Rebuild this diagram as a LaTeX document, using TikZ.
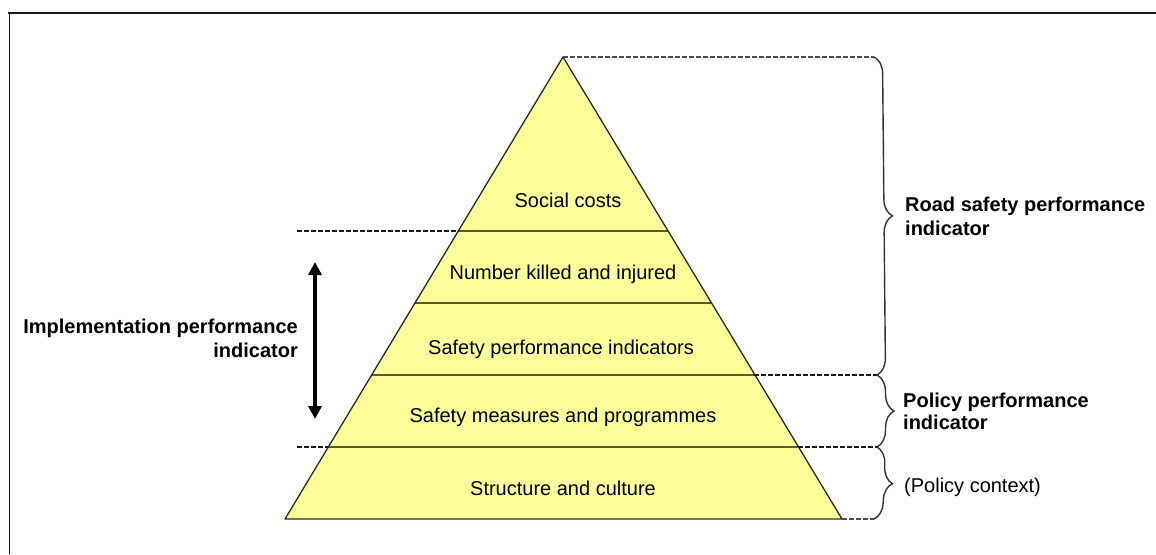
\documentclass[tikz,border=0pt]{standalone}
\usepackage{fontspec}
\setmainfont{Liberation Sans}
\usetikzlibrary{arrows.meta,decorations.pathreplacing}
\definecolor{pyrfill}{RGB}{255,255,153}
\definecolor{pyrline}{RGB}{40,40,40}
\definecolor{layerline}{RGB}{90,90,60}
\begin{document}
\begin{tikzpicture}[x=1pt,y=-1pt,
  lbl/.style={inner sep=0pt,font=\fontsize{20}{23}\selectfont},
  blbl/.style={lbl,font=\fontsize{20}{24}\selectfont\bfseries},
  dashline/.style={draw=black!90,line width=1.4pt,dash pattern=on 5pt off 2pt},
  bracestyle/.style={draw=black!80,line width=1.4pt,decorate,decoration={brace,amplitude=17pt}},
  frame/.style={draw=black!90,line width=1.5pt}]
\useasboundingbox (0,0) rectangle (1156,554);
% frame
\draw[frame] (8,13) -- (1156,13);
\draw[frame] (9.5,13) -- (9.5,554);
% pyramid corners
\coordinate (apex) at (563,57);
\coordinate (bl) at (285,519);
\coordinate (br) at (842,519);
% layer boundary points on edges
\foreach \y/\n in {231/a,303/b,375/c,447/d}{
  \coordinate (L\n) at ({563-(\y-57)*0.6017},\y);
  \coordinate (R\n) at ({563+(\y-57)*0.6017},\y);
}
\fill[pyrfill] (apex) -- (bl) -- (br) -- cycle;
\foreach \n in {a,b,c,d}{\draw[layerline,line width=1.1pt] (L\n) -- (R\n);}
\draw[pyrline,line width=1.3pt,line join=round] (apex) -- (bl) -- (br) -- cycle;
% layer labels
\node[lbl,anchor=base] (social) at (568,207) {Social costs};
\node[lbl,anchor=base] (killed) at (563,279) {Number killed and injured};
\node[lbl,anchor=base] (spi) at (561,354) {Safety performance indicators};
\node[lbl,anchor=base] (measures) at (563,422) {Safety measures and programmes};
\node[lbl,anchor=base] (structure) at (563,495) {Structure and culture};
% dashed guide lines
\coordinate (la) at (297,231);
\coordinate (ld) at (297,447);
\coordinate (rtop) at (874,57);
\coordinate (rc) at (877,375);
\coordinate (rd) at (877,447);
\coordinate (rbot) at (874,519);
\draw[dashline] (la) -- (La);
\draw[dashline] (ld) -- (Ld);
\draw[dashline,draw=black!70,line width=1.1pt] (apex) -- (rtop);
\draw[dashline] (Rc) -- (rc);
\draw[dashline] (Rd) -- (rd);
\draw[dashline,draw=black!70,line width=1.1pt] (br) -- (rbot);
% braces
\draw[bracestyle] (rtop) -- (rc);
\draw[bracestyle] (rc) -- (rd);
\draw[bracestyle] (rd) -- (rbot);
% right labels
\node[blbl,anchor=west,align=left] (road) at (905,216.5) {Road safety performance\\indicator};
\node[lbl,font=\fontsize{20}{22}\selectfont\bfseries,anchor=west,align=left] (policy) at (903,411.5) {Policy performance\\indicator};
\node[lbl,anchor=base west] (context) at (904,492) {(Policy context)};
% left label and arrow
\node[blbl,anchor=east,align=right] (impl) at (298,338.5) {Implementation performance\\indicator};
\coordinate (atop) at (315,262);
\coordinate (abot) at (315,419);
\draw[line width=4pt,black,{Triangle[width=13pt,length=13pt]}-{Triangle[width=13pt,length=13pt]}] (atop) -- (abot);
\end{tikzpicture}
\end{document}
